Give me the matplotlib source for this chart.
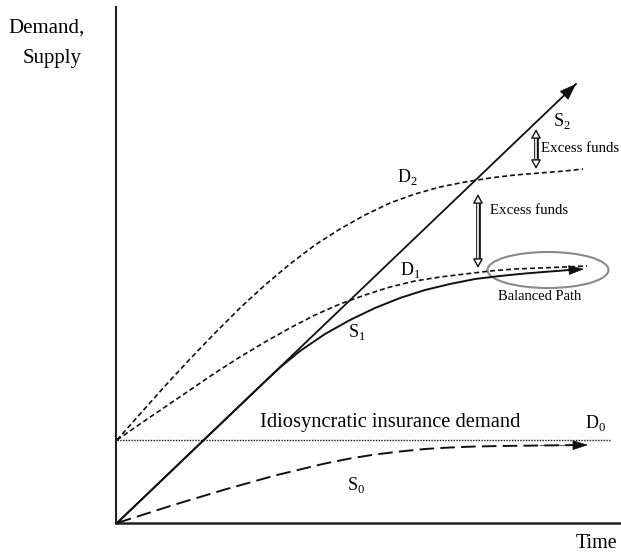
import numpy as np
import matplotlib
matplotlib.use("Agg")
import matplotlib.pyplot as plt
from matplotlib.patches import Ellipse

plt.rcParams["font.family"] = ["Liberation Serif", "DejaVu Serif"]
plt.rcParams["mathtext.fontset"] = "custom"
plt.rcParams["mathtext.rm"] = "Liberation Serif"

# curves in pixel coordinates (x right, y down)
S2_X = [117, 576]
S2_Y = [523, 84]

S1_X = [117, 150, 200, 240, 265, 280, 300, 325, 350, 375, 400, 425, 450,
        475, 500, 525, 550, 584]
S1_Y = [523, 491.5, 443.6, 405.4, 381.5, 367.5, 351, 334, 320, 308, 298,
        290, 284, 279, 276, 273.5, 271.5, 269]

D1_X = [117, 140, 165, 190, 215, 240, 265, 290, 315, 340, 365, 390, 415,
        440, 465, 490, 515, 540, 565, 587]
D1_Y = [440, 424, 407, 390, 373, 357, 342, 328, 315, 304, 295, 287, 281,
        277, 274, 271, 269, 268, 267, 266]

D2_X = [117, 140, 165, 190, 215, 240, 265, 290, 315, 340, 365, 390, 415,
        440, 465, 490, 515, 540, 565, 583]
D2_Y = [440, 414, 386, 359, 333, 308, 285, 264, 245, 229, 215, 203, 194,
        187, 182, 178, 175, 173, 171, 169]

D0_X = [117, 610]
D0_Y = [440, 440]

S0_X = [117, 150, 175, 200, 225, 250, 275, 300, 325, 350, 375, 400, 425,
        450, 475, 500, 540, 588]
S0_Y = [523, 512.5, 504.5, 497, 489.5, 482.5, 475.5, 469.5, 463.5, 458.5,
        454.5, 451.5, 449, 447.5, 446.5, 446, 445.5, 445]

LABELS = [
    (r"$\mathrm{S}_2$", 562, 121),
    (r"$\mathrm{D}_2$", 407, 177),
    (r"$\mathrm{D}_1$", 410, 270),
    (r"$\mathrm{S}_1$", 357, 332),
    (r"$\mathrm{S}_0$", 356, 485),
    (r"$\mathrm{D}_0$", 596, 423),
]


def arrow_head(ax, tip, back, hl=1.0, hw=0.35):
    ax.annotate("", xy=tip, xytext=back,
                arrowprops=dict(arrowstyle=f"-|>,head_length={hl},head_width={hw}",
                                color="#111", lw=0.5, shrinkA=0, shrinkB=0),
                zorder=4)


def double_arrow(ax, x, y0, y1):
    # hollow shaft: black thick line with a white core
    ax.plot([x, x], [y0 + 6, y1 - 6], color="#111", lw=3.4,
            solid_capstyle="butt", zorder=3)
    ax.plot([x, x], [y0 + 5, y1 - 5], color="white", lw=1.2,
            solid_capstyle="butt", zorder=4)
    for tip, back in [((x, y0), (x, y0 + 8)), ((x, y1), (x, y1 - 8))]:
        ax.annotate("", xy=tip, xytext=back,
                    arrowprops=dict(arrowstyle="-|>,head_length=0.55,head_width=0.3",
                                    fc="white", ec="#111", lw=1.0,
                                    shrinkA=0, shrinkB=0),
                    zorder=5)


def main():
    fig = plt.figure(figsize=(6.21, 5.54), dpi=100)
    ax = fig.add_axes([0, 0, 1, 1])
    ax.set_xlim(0, 621)
    ax.set_ylim(554, 0)
    ax.axis("off")

    # axes of the diagram
    ax.plot([116, 116], [7, 523], color="#222", lw=1.5)
    ax.plot([116, 621], [523, 523], color="#222", lw=1.8)

    ax.plot(S2_X, S2_Y, color="#111", lw=1.3)
    dx, dy = S2_X[1] - S2_X[0], S2_Y[1] - S2_Y[0]
    arrow_head(ax, (S2_X[1], S2_Y[1]), (S2_X[1] - 0.04 * dx, S2_Y[1] - 0.04 * dy),
               hl=1.1, hw=0.4)

    ax.plot(S1_X[:-1] + [S1_X[-1] - 6], S1_Y[:-1] + [S1_Y[-1] + 0.3],
            color="#111", lw=1.4)
    arrow_head(ax, (S1_X[-1], S1_Y[-1]), (S1_X[-2], S1_Y[-2]), hl=1.0, hw=0.32)

    ax.plot(D1_X, D1_Y, color="#111", lw=1.2, ls=(0, (3, 1.8)))
    ax.plot(D2_X, D2_Y, color="#111", lw=1.2, ls=(0, (3, 1.8)))
    ax.plot(D0_X, D0_Y, color="#111", lw=1.0, ls=(0, (1, 1)))

    ax.plot(S0_X[:-1] + [S0_X[-1] - 6], S0_Y[:-1] + [S0_Y[-1]],
            color="#111", lw=1.4, ls=(0, (7.5, 3.2)))
    arrow_head(ax, (S0_X[-1], S0_Y[-1]), (S0_X[-2], S0_Y[-2]), hl=1.0, hw=0.32)

    ax.add_patch(Ellipse((548, 270), 121, 36, fill=False, ec="#8a8a8a", lw=1.5))

    double_arrow(ax, 478, 194, 268)
    double_arrow(ax, 536, 129, 169)
    ax.text(490, 210, "Excess funds", fontsize=10.7, ha="left", va="center")
    ax.text(541, 148, "Excess funds", fontsize=10.7, ha="left", va="center")
    ax.text(540, 296, "Balanced Path", fontsize=10.5, ha="center", va="center")

    for s, x, y in LABELS:
        ax.text(x, y, s, fontsize=13, ha="center", va="center")

    ax.text(390, 423, "Idiosyncratic insurance demand", fontsize=14.8,
            ha="center", va="center")
    ax.text(8, 28, "Demand,", fontsize=15, ha="left", va="center")
    ax.text(82, 58, "Supply", fontsize=15, ha="right", va="center")
    ax.text(617, 544, "Time", fontsize=14.4, ha="right", va="center")

    fig.savefig("out.png", dpi=100)


if __name__ == "__main__":
    main()
